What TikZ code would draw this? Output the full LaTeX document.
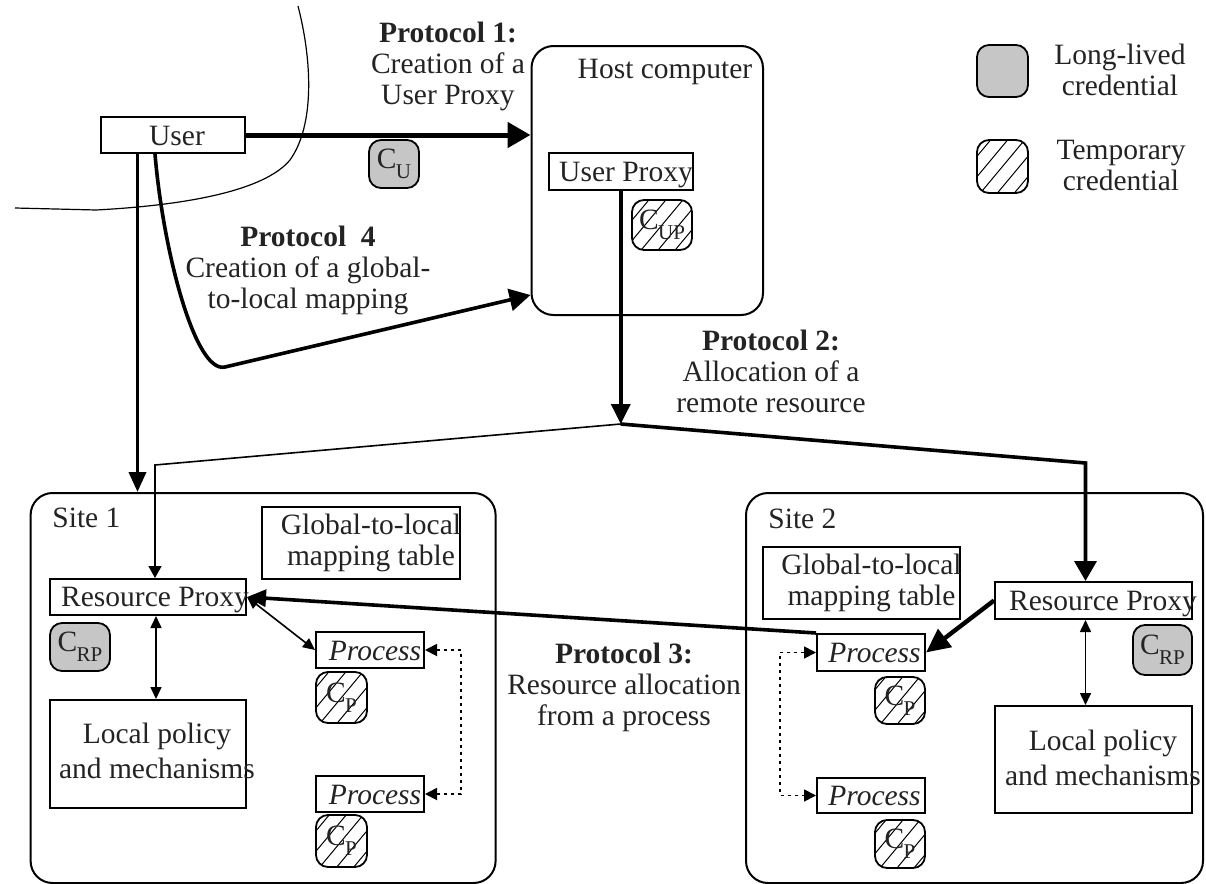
\documentclass[tikz,border=0pt]{standalone}
\usepackage{fontspec}
\setmainfont{Liberation Serif}
\usetikzlibrary{arrows.meta,calc}
\definecolor{credgray}{RGB}{198,198,198}
\definecolor{inkgray}{RGB}{35,35,35}
% credential symbol: C with a lowered, smaller index
\newcommand\credsym[1]{C\kern-0.3pt\raisebox{-5pt}{\fontsize{10.5pt}{10.5pt}\selectfont #1}}

\begin{document}
\begin{tikzpicture}[x=0.5pt, y=-0.5pt,
  txt/.style={font=\fontsize{14.75pt}{15.5pt}\selectfont, text=inkgray, inner sep=0pt},
  lbl/.style={txt, anchor=base},
  block/.style={lbl, align=center},
  box/.style={draw, line width=1pt, inner sep=0pt},
  site/.style={draw, line width=1pt, rounded corners=11pt, inner sep=0pt},
  cred/.style={draw, line width=0.9pt, rounded corners=6pt, inner sep=0pt,
    font=\fontsize{14.75pt}{15pt}\selectfont, text=inkgray},
  longlived/.style={cred, fill=credgray},
  temporary/.style={cred, fill=white, path picture={
      \foreach \k in {-3,...,3}
        \draw[line width=0.5pt]
          ($(path picture bounding box.center)+(\k*8.5pt-20pt,-24pt)$) -- ++(40pt,48pt);}},
  heavy/.style={line width=1.8pt},
  light/.style={line width=0.8pt},
  dotline/.style={line width=0.9pt, dash pattern=on 1.5pt off 2pt},
  smalltips/.style={{Triangle[length=6pt,width=5.5pt]}-{Triangle[length=6pt,width=5.5pt]}},
]
\useasboundingbox (0,0) rectangle (1206,884);

% boundary of the user's domain
\draw[line width=0.6pt] (298,6) .. controls (312,60) and (315,125) .. (290,160)
  .. controls (265,190) and (190,205) .. (96,210) -- (15,208);

% sites and host
\node[site, minimum width=115.75pt, minimum height=134.5pt] (host) at (647.25,180.5) {};
\node[site, minimum width=232.5pt, minimum height=195pt] (site1) at (263.1,688) {};
\node[site, minimum width=228.5pt, minimum height=195pt] (site2) at (974.5,688) {};

% boxes
\node[box, minimum width=72pt, minimum height=18pt] (user) at (173,135) {};
\node[box, minimum width=72.25pt, minimum height=18.5pt] (uproxy) at (620.75,171.5) {};

\node[box, minimum width=99pt, minimum height=36pt] (gtl1) at (361,543) {};
\node[box, minimum width=98pt, minimum height=18pt] (rp1) at (148,597) {};
\node[box, minimum width=98pt, minimum height=54pt] (lp1) at (148,754) {};
\node[box, minimum width=54pt, minimum height=18pt] (p11) at (370,650) {};
\node[box, minimum width=54pt, minimum height=18pt] (p12) at (370,794) {};

\node[box, minimum width=98.5pt, minimum height=36pt] (gtl2) at (861.5,583) {};
\node[box, minimum width=98.5pt, minimum height=18.5pt] (rp2) at (1093.5,600.5) {};
\node[box, minimum width=98.5pt, minimum height=53.5pt] (lp2) at (1093.5,759.5) {};
\node[box, minimum width=54pt, minimum height=18.5pt] (p21) at (871,652.5) {};
\node[box, minimum width=54pt, minimum height=17.5pt] (p22) at (871,795.5) {};

% credentials
\node[longlived, minimum width=25pt, minimum height=24pt] (cu) at (394,164) {\credsym{U}};
\node[temporary, minimum width=30pt, minimum height=25pt] (cup) at (662,225) {\credsym{UP}};
\node[longlived, minimum width=30pt, minimum height=24pt] (crp1) at (80,647) {\credsym{RP}};
\node[longlived, minimum width=29.5pt, minimum height=25pt] (crp2) at (1162.5,650) {\credsym{RP}};
\node[temporary, minimum width=25.5pt, minimum height=25.5pt] (cp11) at (341.5,697.5) {\credsym{P}};
\node[temporary, minimum width=25.5pt, minimum height=26pt] (cp12) at (341.5,841) {\credsym{P}};
\node[temporary, minimum width=25pt, minimum height=23.5pt] (cp21) at (900,700.5) {\credsym{P}};
\node[temporary, minimum width=25pt, minimum height=24pt] (cp22) at (900,844) {\credsym{P}};

% legend
\node[longlived, minimum width=25.5pt, minimum height=26pt] (leglong) at (1002.5,71) {};
\node[temporary, minimum width=25.5pt, minimum height=26.5pt] (legtemp) at (1002.5,166.5) {};
\node[block] (leglongtxt) at (1120,95) {Long-lived\\credential};
\node[block] (legtemptxt) at (1121,190) {Temporary\\credential};

% texts (a block's base is the baseline of its last line)
\node[lbl] (usertxt) at (177,145) {User};
\node[lbl] (hosttxt) at (665,78) {Host computer};
\node[lbl] (uproxytxt) at (626,181) {User Proxy};
\node[lbl, anchor=base west] (site1txt) at (52,527) {Site 1};
\node[lbl, anchor=base west] (site2txt) at (768,528) {Site 2};
\node[block] (gtl1txt) at (371,565) {Global-to-local\\mapping table};
\node[block] (gtl2txt) at (871.5,605) {Global-to-local\\mapping table};
\node[lbl] (rp1txt) at (155,606) {Resource Proxy};
\node[lbl] (rp2txt) at (1103,610) {Resource Proxy};
\node[block] (lp1txt) at (157,778) {Local policy\\[2pt]and mechanisms};
\node[block] (lp2txt) at (1103,785) {Local policy\\[2pt]and mechanisms};
\node[lbl] (p11txt) at (375,660) {\textit{Process}};
\node[lbl] (p12txt) at (375,804) {\textit{Process}};
\node[lbl] (p21txt) at (874.5,662) {\textit{Process}};
\node[lbl] (p22txt) at (874.5,805) {\textit{Process}};

\node[block] (proto1) at (448,104) {\textbf{Protocol 1:}\\Creation of a\\User Proxy};
\node[block] (proto4) at (308,308) {\textbf{Protocol\ \ 4}\\Creation of a global-\\to-local mapping};
\node[block] (proto2) at (771,412) {\textbf{Protocol 2:}\\Allocation of a\\remote resource};
\node[block] (proto3) at (624,725) {\textbf{Protocol 3:}\\Resource allocation\\from a process};

% Protocol 1: user creates the user proxy
\draw[line width=2.5pt, -{Triangle[length=11.5pt,width=12.5pt]}] (user.east) -- (user.east -| host.west);

% user reaches site 1 directly
\coordinate (userL) at ($(user.south west)+(37.5,0)$);
\draw[heavy, -{Triangle[length=10pt,width=8.5pt]}] (userL) -- (userL |- site1.north);

% Protocol 4: global-to-local mapping
\coordinate (userR) at ($(user.south west)+(55,0)$);
\coordinate (p4in) at ($(host.south west)+(0,-21)$);
\draw[heavy, -{Triangle[length=10.5pt,width=11pt]}] (userR)
  .. controls (163,250) and (195,374) .. (225,367) -- (p4in);

% Protocol 2: allocation of remote resources
\coordinate (split) at ($(uproxy.south)+(0,233)$);
\draw[heavy, -{Triangle[length=10pt,width=9.5pt]}] (uproxy.south) -- (split);
\coordinate (bendL) at (155,465);
\draw[light, -{Triangle[length=6pt,width=6.5pt]}] (split) -- (bendL) -- (bendL |- rp1.north);
\coordinate (bendR) at (1085.5,463);
\draw[heavy, -{Triangle[length=10pt,width=11pt]}] (split) -- (bendR) -- (bendR |- rp2.north);

% Protocol 3: resource allocation from a process
\draw[heavy, -{Triangle[length=9.5pt,width=8.5pt]}] (p21.north west) -- (rp1.east);
\draw[light, smalltips] (rp1.east) -- (p11.west);
\draw[line width=2.2pt, -{Triangle[length=12pt,width=11pt]}] (rp2.west) -- (p21.east);

% proxies and local policy
\draw[light, smalltips] ($(rp1.south)+(8,0)$) -- ($(lp1.north)+(8,0)$);
\draw[light, smalltips] ($(rp2.south)+(-8,0)$) -- ($(lp2.north)+(-8,0)$);

% process to process
\draw[dotline, {Triangle[length=6pt,width=6pt]}-{Triangle[length=6pt,width=6pt]}]
  (p11.east) -- ++(36,0) |- (p12.east);
\draw[dotline, {Triangle[length=6pt,width=6pt]}-{Triangle[length=6pt,width=6pt]}]
  (p21.west) -- ++(-36,0) |- (p22.west);
\end{tikzpicture}
\end{document}
